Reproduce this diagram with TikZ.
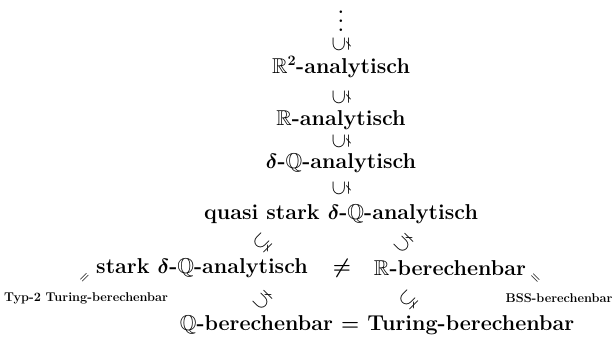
\documentclass[tikz,border=0pt]{standalone}
\usepackage{amssymb}
\usepackage{graphicx}
\newcommand{\myvdots}{\vbox{\baselineskip=9pt\lineskiplimit=-30pt\lineskip=0pt\hbox{.}\hbox{.}\hbox{.}}}
\begin{document}
\begin{tikzpicture}[x=1pt,y=-1pt,
  every node/.style={inner sep=0pt, anchor=center},
  big/.style={font=\fontsize{21.5}{25}\selectfont\bfseries\boldmath},
  rel/.style={font=\fontsize{21}{25}\selectfont\boldmath},
  dotsty/.style={font=\fontsize{18}{20}\selectfont\bfseries},
  small/.style={font=\fontsize{12.7}{15}\selectfont\bfseries\boldmath}]
\useasboundingbox (0,0) rectangle (612,338);
\node[dotsty] (dots) at (341,21) {\myvdots};
\node[rel] (s1) at (341,44) {\rotatebox{90}{$\subsetneq$}};
\node[big] (r2) at (341,67) {$\mathbb{R}^2$-analytisch};
\node[rel] (s2) at (341,97) {\rotatebox{90}{$\subsetneq$}};
\node[big] (r) at (341,120) {$\mathbb{R}$-analytisch};
\node[rel] (s3) at (341,141) {\rotatebox{90}{$\subsetneq$}};
\node[big] (dq) at (341,163) {$\delta$-$\mathbb{Q}$-analytisch};
\node[rel] (s4) at (341,188) {\rotatebox{90}{$\subsetneq$}};
\node[big] (qs) at (341,214) {quasi\ stark\ $\delta$-$\mathbb{Q}$-analytisch};
\node[rel] (d1) at (263,243) {\rotatebox{45}{$\subsetneq$}};
\node[rel] (d2) at (404,243) {\rotatebox{135}{$\subsetneq$}};
\node[big] (st) at (202,268) {stark\ $\delta$-$\mathbb{Q}$-analytisch};
\node[rel] (ne) at (342,268) {$\neq$};
\node[big] (rb) at (450,268) {$\mathbb{R}$-berechenbar};
\node[small] (m1) at (85,278) {\rotatebox{45}{$=$}};
\node[small] (m2) at (535,279) {\rotatebox{-45}{$=$}};
\node[small] (t2) at (86,298) {Typ-2 Turing-berechenbar};
\node[small] (bss) at (559,298) {BSS-berechenbar};
\node[rel] (d3) at (263,300) {\rotatebox{135}{$\subsetneq$}};
\node[rel] (d4) at (409,300) {\rotatebox{45}{$\subsetneq$}};
\node[big] (qb) at (377,325) {$\mathbb{Q}$-berechenbar $=$ Turing-berechenbar};
\end{tikzpicture}
\end{document}
